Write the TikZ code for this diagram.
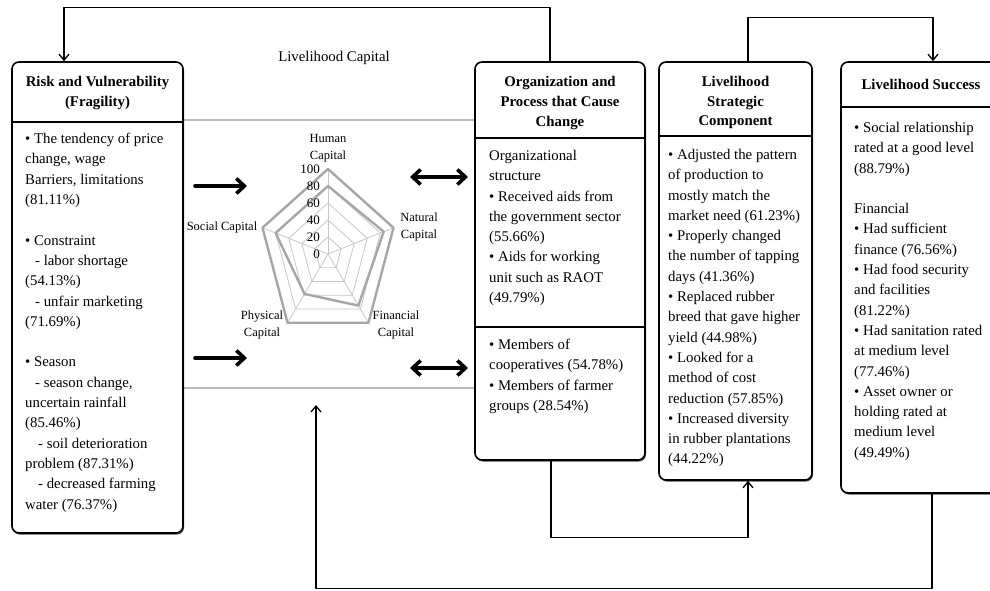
\documentclass[tikz,border=0pt]{standalone}
\usepackage{fontspec}
\setmainfont{Liberation Serif}
\usetikzlibrary{arrows.meta,shadows}
\tikzset{
  boxframe/.style={draw, line width=1.6pt, rounded corners=7pt, fill=white, inner sep=0pt,
    drop shadow={shadow xshift=1pt, shadow yshift=-1.5pt, fill=black!70, opacity=1}},
  boxhead/.style={align=center, inner sep=0pt, font=\bfseries\fontsize{14.8}{19.8}\selectfont},
  boxtext/.style={anchor=north west, align=left, inner sep=0pt, font=\fontsize{14.8}{20.3}\selectfont},
  divline/.style={line width=1.6pt},
  capline/.style={draw=gray!55, line width=1.2pt},
  conn/.style={line width=1.3pt, ->},
  bigarrow/.style={line width=3.6pt, -{Straight Barb[length=8pt,width=15pt]}},
  bigboth/.style={line width=3.6pt, {Straight Barb[length=8pt,width=15pt]}-{Straight Barb[length=8pt,width=15pt]}},
  radarlbl/.style={align=center, inner sep=0pt, font=\fontsize{12.5}{16.5}\selectfont},
}
\begin{document}
\begin{tikzpicture}[x=1pt, y=-1pt, line join=round, line cap=round, >={Straight Barb[length=6pt,width=10pt]}]
  \useasboundingbox (0,0) rectangle (990,590);
  \clip (0,0) rectangle (990,590);
  \def\R{85}
  % livelihood capital frame
  \draw[capline] (183,120) -- (475,120);
  \draw[capline] (183,388) -- (475,388);
  \node[font=\fontsize{14.8}{18}\selectfont] (captitle) at (334,58) {Livelihood Capital};
  % boxes
  \node[boxframe, minimum width=171pt, minimum height=471pt] (risk) at (97.5,297.5) {};
  \node[boxframe, minimum width=170pt, minimum height=398pt] (org) at (560,261) {};
  \node[boxframe, minimum width=153pt, minimum height=418pt] (strat) at (735.5,271) {};
  \node[boxframe, minimum width=160pt, minimum height=431pt] (success) at (921,277.5) {};
  \draw[divline] (12,122) -- (183,122);
  \draw[divline] (475,138) -- (645,138);
  \draw[divline] (475,327) -- (645,327);
  \draw[divline] (659,136) -- (812,136);
  \draw[divline] (841,107) -- (1001,107);
  \node[boxhead] (riskhead) at (97.5,93) {Risk and Vulnerability\\(Fragility)};
  \node[boxhead] (orghead) at (560,103) {Organization and\\Process that Cause\\Change};
  \node[boxhead] (strathead) at (735.5,102.5) {Livelihood\\Strategic\\Component};
  \node[boxhead] (successhead) at (921,84) {Livelihood Success};
  \node[boxtext] (riskbody) at (25,133) {• The tendency of price\\change, wage\\Barriers, limitations\\(81.11\%)\\[20.3pt]
    • Constraint\\\hspace*{10pt}- labor shortage\\(54.13\%)\\\hspace*{10pt}- unfair marketing\\(71.69\%)\\[20.3pt]
    • Season\\\hspace*{10pt}- season change,\\uncertain rainfall\\(85.46\%)\\\hspace*{13pt}- soil deterioration\\problem (87.31\%)\\\hspace*{13pt}- decreased farming\\water (76.37\%)};
  \node[boxtext] (orgbody) at (489,150) {Organizational\\structure\\• Received aids from\\the government sector\\(55.66\%)\\• Aids for working\\unit such as RAOT\\(49.79\%)};
  \node[boxtext] (orgbody2) at (489,339) {• Members of\\cooperatives (54.78\%)\\• Members of farmer\\groups (28.54\%)};
  \node[boxtext] (stratbody) at (668,149) {• Adjusted the pattern\\of production to\\mostly match the\\market need (61.23\%)\\• Properly changed\\the number of tapping\\days (41.36\%)\\• Replaced rubber\\breed that gave higher\\yield (44.98\%)\\• Looked for a\\method of cost\\reduction (57.85\%)\\• Increased diversity\\in rubber plantations\\(44.22\%)};
  \node[boxtext] (successbody) at (854,122) {• Social relationship\\rated at a good level\\(88.79\%)\\[20.3pt]Financial\\• Had sufficient\\finance (76.56\%)\\• Had food security\\and facilities\\(81.22\%)\\• Had sanitation rated\\at medium level\\(77.46\%)\\• Asset owner or\\holding rated at\\medium level\\(49.49\%)};
  % radar chart
  \begin{scope}[shift={(328,254)}, xscale=0.81, yscale=-1]
    \foreach \r in {17,34,51,68}
      \draw[gray!45, line width=0.8pt] (90:\r) \foreach \a in {18,-54,-126,-198}{ -- (\a:\r)} -- cycle;
    \foreach \a in {90,18,-54,-126,-198} \draw[gray!45, line width=0.8pt] (0,0) -- (\a:\R);
    \draw[gray!70, line width=2.4pt] (90:\R) -- (18:\R) -- (-54:\R) -- (-126:\R) -- (-198:\R) -- cycle;
    \draw[gray!70, line width=2.4pt] (90:68) -- (18:72.3) -- (-54:63.8) -- (-126:49.3) -- (-198:68) -- cycle;
  \end{scope}
  \foreach \v in {0,20,...,100}
    \node[anchor=east, inner sep=0pt, font=\fontsize{13}{15}\selectfont] (scale\v) at (320,{254-0.85*\v}) {\v};
  \node[radarlbl] (human) at (328,148) {Human\\Capital};
  \node[radarlbl] (natural) at (419,227) {Natural\\Capital};
  \node[radarlbl] (financial) at (396,325) {Financial\\Capital};
  \node[radarlbl] (physical) at (262,325) {Physical\\Capital};
  \node[radarlbl] (social) at (222,227) {Social Capital};
  % arrows into and out of the capital frame
  \coordinate (inA) at (195,186); \coordinate (inA2) at (247,186);
  \coordinate (inB) at (195,358); \coordinate (inB2) at (247,358);
  \coordinate (bothA) at (410,177); \coordinate (bothA2) at (468,177);
  \coordinate (bothB) at (410,368); \coordinate (bothB2) at (468,368);
  \draw[bigarrow] (inA) -- (inA2);
  \draw[bigarrow] (inB) -- (inB2);
  \draw[bigboth] (bothA) -- (bothA2);
  \draw[bigboth] (bothB) -- (bothB2);
  % feedback connectors
  \coordinate (capfoot) at (316,405);
  \draw[conn] ([xshift=-10pt]org.north) -- ++(0,-54) -| ([xshift=-33.5pt]risk.north);
  \draw[conn] ([xshift=12.5pt]strat.north) -- ++(0,-44) -| ([xshift=12pt]success.north);
  \draw[conn] ([xshift=-9pt]org.south) -- ++(0,77) -| ([xshift=12.5pt]strat.south);
  \draw[conn] ([xshift=11pt]success.south) -- ++(0,95) -| (capfoot);
\end{tikzpicture}
\end{document}
